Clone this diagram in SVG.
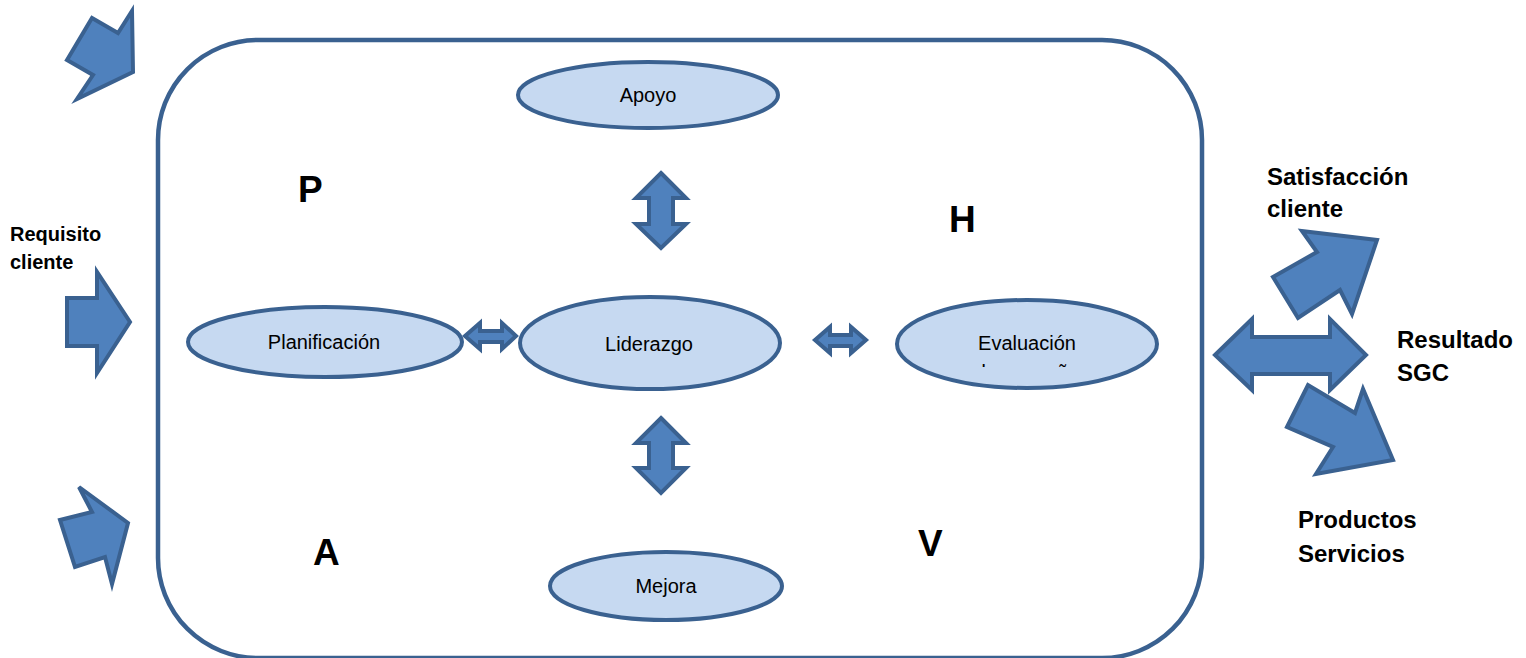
<svg xmlns="http://www.w3.org/2000/svg" width="1526" height="658" viewBox="0 0 1526 658">
<style>
.frame{fill:#ffffff;stroke:#3a6190;stroke-width:4.5}
.ell{fill:#c6d9f1;stroke:#3a6190;stroke-width:4}
.arr{fill:#4f81bd;stroke:#3a6190;stroke-width:4;stroke-linejoin:miter}
.t{font-family:"Liberation Sans",Arial,sans-serif;font-size:20px;fill:#000;text-anchor:middle}
.lbl{font-family:"Liberation Sans",Arial,sans-serif;font-weight:bold;font-size:24px;fill:#000}
.sm{font-size:20px}
.big{font-family:"Liberation Sans",Arial,sans-serif;font-weight:bold;font-size:37px;fill:#000}
</style>
<defs>
<clipPath id="evalClip"><rect x="900" y="300" width="260" height="67"/></clipPath>
</defs>
<rect width="1526" height="658" fill="#ffffff"/>
<g id="frame">
<rect class="frame" x="158" y="40" width="1044" height="618" rx="100" ry="100"/>
</g>
<g id="connectors">
<polygon class="arr" points="132,11 133,72 77,99 93,75 67,60 92,18 118,33"/>
<polygon class="arr" points="67,298 97,298 97,272 130,322 97,373 97,346 67,346"/>
<polygon class="arr" points="79,487 128,523 112,584 105,557 75,567 60,520 92,512"/>
<polygon class="arr" points="661,173 686,198 673,198 673,224 686,224 661,248 636,224 649,224 649,198 636,198"/>
<polygon class="arr" points="661,418 686,443 673,443 673,468 686,468 661,493 636,468 649,468 649,443 636,443"/>
<polygon class="arr" points="465,336 480,323 480,331 502,331 502,323 516,336 502,349 502,342 480,342 480,349"/>
<polygon class="arr" points="815,340 830,327 830,335 851,335 851,327 866,340 851,353 851,346 830,346 830,353"/>
<polygon class="arr" points="1215,355 1252,319 1252,337 1330,337 1330,319 1366,355 1330,390 1330,374 1252,374 1252,390"/>
<polygon class="arr" points="1273,277 1317,252 1302,231 1377,240 1352,314 1340,290 1298,318"/>
<polygon class="arr" points="1287,427 1308,385 1355,413 1363,389 1393,460 1316,474 1333,447"/>
</g>
<g id="apoyo">
<ellipse class="ell" cx="648" cy="95" rx="130" ry="33"/>
<text class="t" x="648" y="102">Apoyo</text>
</g>
<g id="planificacion">
<ellipse class="ell" cx="325" cy="342" rx="137" ry="35"/>
<text class="t" x="324" y="349">Planificación</text>
</g>
<g id="liderazgo">
<ellipse class="ell" cx="650" cy="343" rx="130" ry="46"/>
<text class="t" x="649" y="351">Liderazgo</text>
</g>
<g id="evaluacion">
<ellipse class="ell" cx="1027" cy="344" rx="130" ry="44"/>
<text class="t" x="1027" y="350">Evaluación</text>
<text class="t" x="1027" y="378.5" clip-path="url(#evalClip)">desempeño</text>
</g>
<g id="mejora">
<ellipse class="ell" cx="666" cy="586" rx="116" ry="34"/>
<text class="t" x="666" y="593">Mejora</text>
</g>
<g id="letters">
<text class="big" x="298" y="202">P</text>
<text class="big" x="949" y="232">H</text>
<text class="big" x="313" y="565">A</text>
<text class="big" x="918" y="556">V</text>
</g>
<g id="requisito">
<text class="lbl sm" x="10" y="241">Requisito</text>
<text class="lbl sm" x="10" y="269">cliente</text>
</g>
<g id="satisfaccion">
<text class="lbl" x="1267" y="185">Satisfacción</text>
<text class="lbl" x="1267" y="217">cliente</text>
</g>
<g id="resultado">
<text class="lbl" x="1397" y="348">Resultado</text>
<text class="lbl" x="1397" y="381">SGC</text>
</g>
<g id="productos">
<text class="lbl" x="1298" y="528">Productos</text>
<text class="lbl" x="1298" y="562">Servicios</text>
</g>
</svg>
